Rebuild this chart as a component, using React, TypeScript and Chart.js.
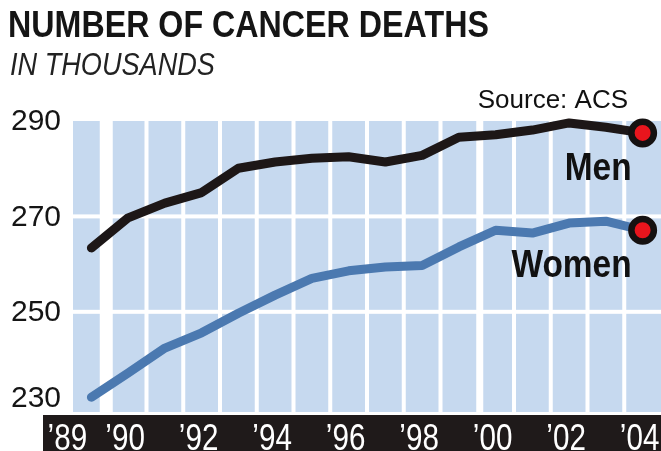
import { useEffect, useRef } from "react";
import { Chart, registerables } from "chart.js";

Chart.register(...registerables);

const years = [1989, 1990, 1991, 1992, 1993, 1994, 1995, 1996, 1997, 1998, 1999, 2000, 2001, 2002, 2003, 2004];
const menDeaths = [263.4, 269.7, 272.8, 275.0, 280.1, 281.4, 282.2, 282.5, 281.4, 282.8, 286.6, 287.1, 288.1, 289.6, 288.7, 287.5];
const womenDeaths = [232.1, 237.2, 242.4, 245.6, 249.7, 253.5, 257.0, 258.6, 259.4, 259.7, 263.6, 267.1, 266.5, 268.6, 269.0, 267.1];
const yTickValues = [290, 270, 250, 230];
const xTickYears = [1989, 1990, 1992, 1994, 1996, 1998, 2000, 2002, 2004];
const xTickLabels = ["\u201989", "\u201990", "\u201992", "\u201994", "\u201996", "\u201998", "\u201900", "\u201902", "\u201904"];
const seriesNames = ["Men", "Women"];
const titleText = "NUMBER OF CANCER DEATHS";
const subtitleText = "IN THOUSANDS";
const sourceText = "Source: ACS";

const SANS = "'Liberation Sans', Arial, sans-serif";
const BLUE_BG = "#c6d9ef";
const MEN_COLOR = "#1d1717";
const WOMEN_COLOR = "#4b79b0";
const DOT_RED = "#e8151d";
const DARK = "#1f1a1a";

function narrowText(ctx: CanvasRenderingContext2D, text: string, x: number, y: number, font: string, sx: number, align: CanvasTextAlign, baseline: CanvasTextBaseline = "alphabetic") {
  ctx.save();
  ctx.translate(x, y);
  ctx.scale(sx, 1);
  ctx.font = font;
  ctx.textAlign = align;
  ctx.textBaseline = baseline;
  ctx.fillText(text, 0, 0);
  ctx.restore();
}

const backgroundPlugin = {
  id: "bands",
  beforeDatasetsDraw(chart: any) {
    const { ctx, chartArea: a, scales } = chart;
    const xs = scales.x;
    const ys = scales.y;
    ctx.save();
    ctx.fillStyle = BLUE_BG;
    ctx.fillRect(a.left, a.top, a.right - a.left, a.bottom - a.top);
    ctx.fillStyle = "#ffffff";
    for (let i = 0; i < years.length - 1; i++) {
      const b = (years[i] + years[i + 1]) / 2;
      const x = xs.getPixelForValue(b);
      let l = x - 2;
      let r = x + 2;
      if (i === 0) { l = x - 10; r = x + 3; }
      if (years[i + 1] === 2000) { l = x - 1; r = x + 6; }
      ctx.fillRect(l, a.top, r - l, a.bottom - a.top);
    }
    [270, 250].forEach((v) => {
      const y = ys.getPixelForValue(v);
      ctx.fillRect(a.left, y - 2, a.right - a.left, 4);
    });
    ctx.restore();
  },
  afterDatasetsDraw(chart: any) {
    const { ctx, scales } = chart;
    const xs = scales.x;
    const ys = scales.y;
    ctx.save();
    ctx.fillStyle = "#111111";
    const xr = xs.getPixelForValue(years[years.length - 1]) - 11;
    const f = `bold 38px ${SANS}`;
    narrowText(ctx, seriesNames[0], xr, ys.getPixelForValue(menDeaths[menDeaths.length - 1]) + 47, f, 0.88, "right");
    narrowText(ctx, seriesNames[1], xr, ys.getPixelForValue(womenDeaths[womenDeaths.length - 1]) + 47, f, 0.88, "right");
    ctx.restore();
  },
  afterDraw(chart: any) {
    const { ctx, scales, width, height } = chart;
    const xs = scales.x;
    const ys = scales.y;
    ctx.save();
    // Title
    ctx.fillStyle = "#151515";
    narrowText(ctx, titleText, 8, 37, `bold 36px ${SANS}`, 0.895, "left");
    ctx.fillStyle = "#222222";
    narrowText(ctx, subtitleText, 10, 75, `italic 31px ${SANS}`, 0.875, "left");
    // Source
    ctx.fillStyle = "#111111";
    narrowText(ctx, sourceText, 628, 108, `26px ${SANS}`, 1, "right");
    // Y labels
    ctx.fillStyle = "#151515";
    yTickValues.forEach((v) => {
      let y = ys.getPixelForValue(v);
      if (v === 230) y -= 9;
      narrowText(ctx, String(v), 11, y + 1, `30px ${SANS}`, 1, "left", "middle");
    });
    // X band
    ctx.fillStyle = DARK;
    ctx.fillRect(43, 415, width - 43, height - 415);
    ctx.fillStyle = "#ffffff";
    xTickYears.forEach((yr, i) => {
      let x = xs.getPixelForValue(yr);
      x += yr === 1989 ? -24 : -3;
      narrowText(ctx, xTickLabels[i], x, 450, `37px ${SANS}`, 0.8, "center");
    });
    ctx.restore();
  },
};

export default function App() {
  const ref = useRef<HTMLCanvasElement | null>(null);
  useEffect(() => {
    if (!ref.current) return;
    const lastIdx = years.length - 1;
    const radii = years.map((_, i) => (i === lastIdx ? 11.25 : 0));
    const chart = new Chart(ref.current, {
      type: "line",
      data: {
        datasets: [
          {
            label: seriesNames[0],
            data: years.map((y, i) => ({ x: y, y: menDeaths[i] })),
            borderColor: MEN_COLOR,
            borderWidth: 9,
            borderJoinStyle: "round",
            borderCapStyle: "round",
            tension: 0,
            pointRadius: radii,
            pointBackgroundColor: DOT_RED,
            pointBorderColor: "#151111",
            pointBorderWidth: 6.5,
            clip: false,
          },
          {
            label: seriesNames[1],
            data: years.map((y, i) => ({ x: y, y: womenDeaths[i] })),
            borderColor: WOMEN_COLOR,
            borderWidth: 9,
            borderJoinStyle: "round",
            borderCapStyle: "round",
            tension: 0,
            pointRadius: radii,
            pointBackgroundColor: DOT_RED,
            pointBorderColor: "#151111",
            pointBorderWidth: 6.5,
            clip: false,
          },
        ],
      },
      options: {
        animation: false,
        responsive: false,
        maintainAspectRatio: false,
        layout: { autoPadding: false, padding: { left: 73, right: 0, top: 121, bottom: 39 } },
        scales: {
          x: { type: "linear", min: 1988.5, max: 2004.5, display: false },
          y: { type: "linear", min: 229, max: 290, display: false },
        },
        plugins: { legend: { display: false }, tooltip: { enabled: false }, title: { display: false } },
        events: [],
      },
      plugins: [backgroundPlugin],
    } as any);
    return () => chart.destroy();
  }, []);
  return (
    <div style={{ position: "fixed", left: 0, top: 0, width: 661, height: 451, background: "#ffffff" }}>
      <canvas ref={ref} width={661} height={451} style={{ width: 661, height: 451, display: "block" }} />
    </div>
  );
}
